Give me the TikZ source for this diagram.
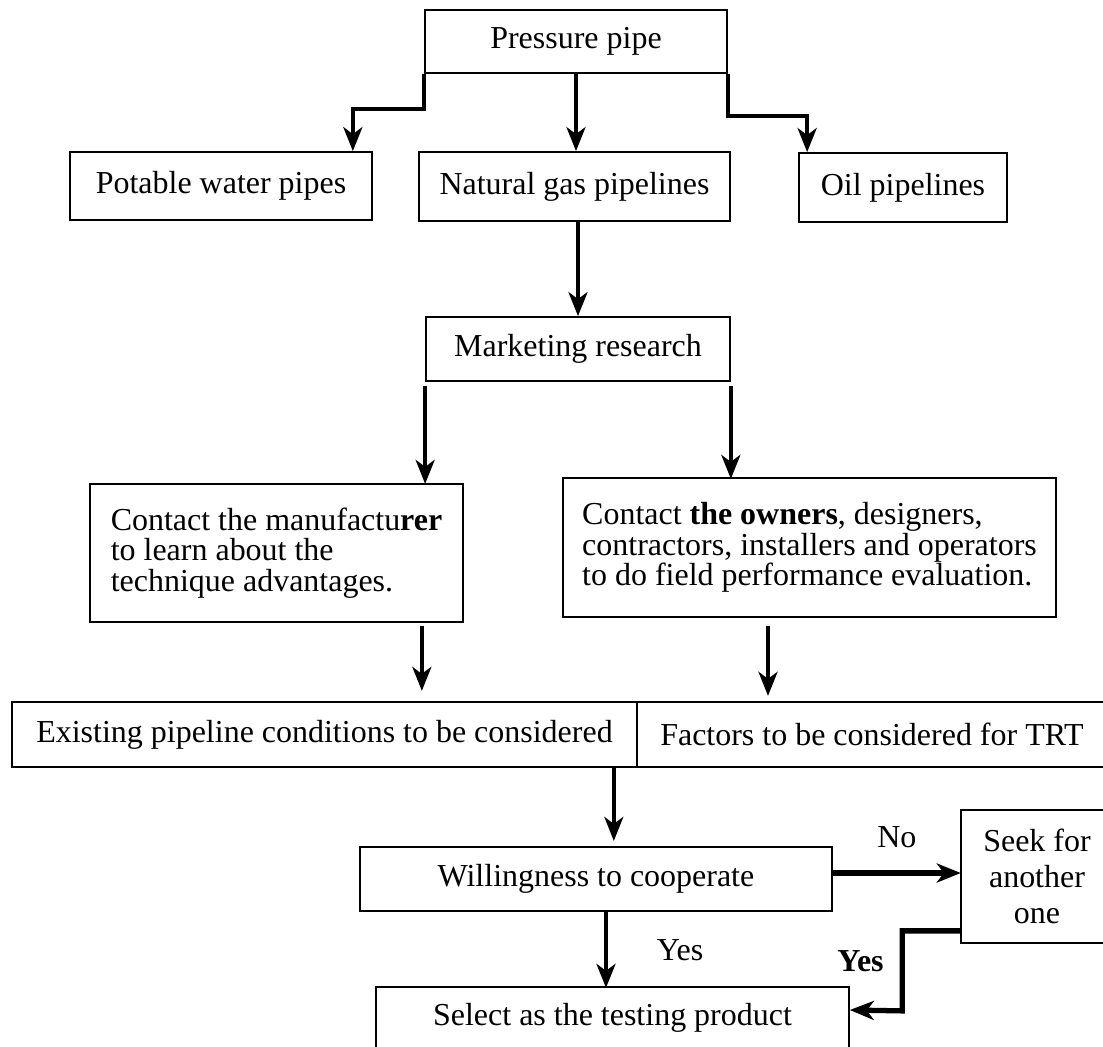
\documentclass[tikz,border=0pt]{standalone}
\usepackage{fontspec}
\setmainfont{Liberation Serif}
\usetikzlibrary{arrows.meta,positioning}

\begin{document}
\begin{tikzpicture}[x=0.02cm,y=-0.02cm,font=\fontsize{18.2}{17.2}\selectfont,
	box/.style={draw,line width=1pt,inner sep=0pt},
	flow/.style={->,line width=2.2pt},
	heavy/.style={->,line width=3pt},
	>={Stealth[length=0.48cm,width=0.38cm,inset=0.14cm]}]
	\useasboundingbox (0,0) rectangle (1103,1046);

	\node[box,minimum width=6.04cm,minimum height=1.26cm] (pipe) at (576,41.5) {Pressure pipe};
	\node[box,minimum width=6.04cm,minimum height=1.36cm] (water) at (221,186) {Potable water pipes};
	\node[box,minimum width=6.22cm,minimum height=1.38cm] (gas) at (574.5,186.5) {Natural gas pipelines};
	\node[box,minimum width=4.16cm,minimum height=1.38cm] (oil) at (903,187.5) {Oil pipelines};
	\node[box,minimum width=6.08cm,minimum height=1.28cm] (market) at (578,349) {Marketing research};
	\node[box,align=left,minimum width=7.46cm,minimum height=2.76cm] (manuf) at (276.5,553)
		{Contact the manufactu\textbf{rer}\\to learn about the\\technique advantages.};
	\node[box,align=left,minimum width=9.86cm,minimum height=2.78cm] (owners) at (809.5,547.5)
		{Contact \textbf{the owners}, designers,\\contractors, installers and operators\\to do field performance evaluation.};
	\node[box,minimum width=12.5cm,minimum height=1.3cm] (exist) at (324.5,734.5) {Existing pipeline conditions to be considered};
	\node[box,minimum width=9.4cm,minimum height=1.3cm] (factors) at (872,734.5) {Factors to be considered for TRT};
	\node[box,minimum width=9.44cm,minimum height=1.28cm] (will) at (596,879) {Willingness to cooperate};
	\node[box,align=center,font=\fontsize{18.2}{20.5}\selectfont,minimum width=3.04cm,minimum height=2.66cm] (seek) at (1037,876.5)
		{Seek for\\another\\one};
	\node[box,minimum width=9.46cm,minimum height=1.24cm] (select) at (612.5,1018) {Select as the testing product};

	\draw[flow,line width=2.6pt] (pipe.south west) -- ++(0,35) -| ([xshift=-0.4cm]water.north east);
	\draw[flow] (pipe.south) -- (pipe.south |- gas.north);
	\draw[flow,line width=2.6pt] (pipe.south east) -- ++(0,42) -| ([xshift=0.18cm]oil.north west);
	\draw[flow] (market.north |- gas.south) -- (market.north);
	\draw[flow] ([yshift=-0.08cm]market.south west) -- ++(0,98);
	\draw[flow] ([yshift=-0.08cm]market.south east) -- ++(0,93);
	\draw[flow] ([xshift=-0.84cm,yshift=-0.06cm]manuf.south east) -- ++(0,65);
	\draw[flow] ([xshift=-0.83cm,yshift=-0.16cm]owners.south) -- ++(0,70);
	\draw[flow] ([xshift=-0.48cm]exist.south east) -- ++(0,73);
	\draw[heavy] ([yshift=0.12cm]will.east) -- node[above=0.34cm] {No} ++(128,0);
	\draw[flow] ([xshift=0.2cm]will.south) -- node[right=0.86cm] {Yes} ++(0,76);
	\draw[heavy] ([yshift=0.26cm]seek.south west) -- ++(-58,0)
		-- node[left=0.2cm,pos=0.38,font=\fontsize{18.2}{17.2}\selectfont\bfseries] {Yes} ++(0,80)
		-- ([yshift=0.16cm]select.east);
\end{tikzpicture}
\end{document}
